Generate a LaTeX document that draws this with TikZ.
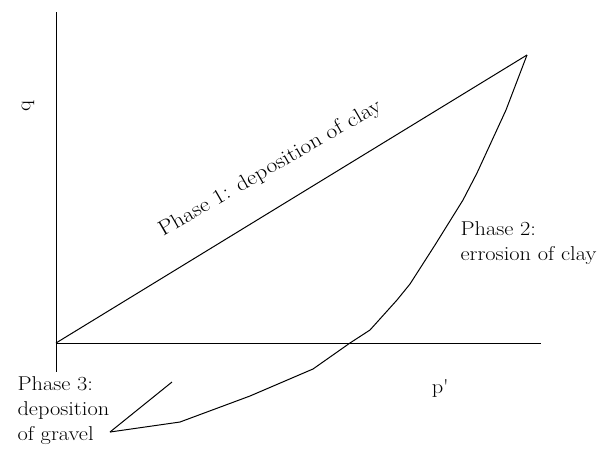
\documentclass[tikz,border=0pt]{standalone}
\usepackage{fontspec}
\setmainfont{Latin Modern Roman}[FakeStretch=1.12]
\usepackage{tikz}
\usetikzlibrary{positioning,calc}

\begin{document}
\begin{tikzpicture}[x=1pt, y=-1pt, line width=1pt,
    every node/.style={font=\fontsize{20}{25}\selectfont, inner sep=0pt},
    phaselabel/.style={align=left, anchor=north west}]
    \useasboundingbox (0,0) rectangle (606,448);

    % Axes
    \coordinate (qtop) at (56,12);
    \coordinate (qbot) at (56,372);
    \coordinate (O) at (56,343);
    \coordinate (pend) at (541,343);
    \draw (qtop) -- (qbot);
    \draw (O) -- (pend);

    % Stress path
    \coordinate (peak) at (527,55);
    \coordinate (tip) at (110,432);
    \coordinate (back) at (172,382);
    \draw (O) -- (peak);
    \draw (peak) -- (506,110) -- (477,173) -- (463,200) -- (435,245)
        -- (410,284) -- (397,300) -- (370,330) -- (350,343) -- (313,369)
        -- (250,396) -- (180,422) -- (tip);
    \draw (tip) -- (back);

    % Labels
    \node[rotate=90] (qlab) at (28,106) {q};
    \node (plab) at (440,388) {p\textquotesingle};
    \node[rotate=30, anchor=base, font=\fontsize{21}{25}\selectfont] (ph1) at (273,173) {Phase 1: deposition of clay};
    \node[phaselabel] (ph2) at (460,221) {Phase 2:\\errosion of clay};
    \node[phaselabel] (ph3) at (17,376) {Phase 3:\\deposition\\of gravel};
\end{tikzpicture}
\end{document}
